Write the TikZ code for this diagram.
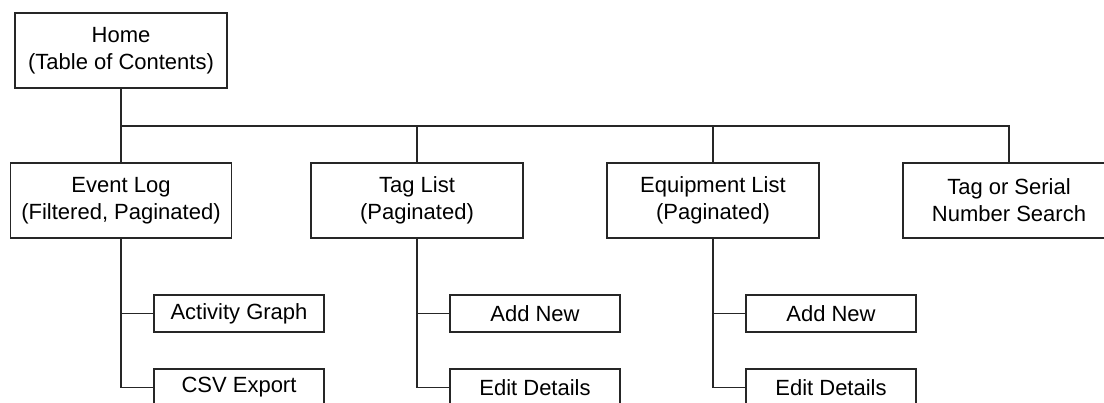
\documentclass[tikz,border=0pt]{standalone}
\usepackage{fontspec}
\setmainfont{Liberation Sans}
\tikzset{
    page/.style={draw=black!85, line width=0.9pt, fill=white, align=center,
        font=\fontsize{11}{13.5}\selectfont, inner sep=0pt},
    bigpage/.style={page, minimum width=106pt, minimum height=37.5pt},
    subpage/.style={page, minimum width=85pt, minimum height=18.5pt},
    link/.style={draw=black!85, line width=0.9pt}
}
\begin{document}
\begin{tikzpicture}[x=0.5pt, y=-0.5pt]

    % Page size of the reference, lower boxes run past the edge
    \useasboundingbox (0,0) rectangle (1104,402);
    \clip (0,0) rectangle (1104,402);

    % Top level
    \node[bigpage] (home) at (121,50.5) {Home\\(Table of Contents)};
    \coordinate (bus) at (121,126);

    % Second level
    \node[bigpage, minimum width=110.5pt] (evlog) at (121,200.5) {Event Log\\(Filtered, Paginated)};
	\node[bigpage] (taglist) at (417,200.5) {Tag List\\(Paginated)};
	\node[bigpage] (equip) at (713,200.5) {Equipment List\\(Paginated)};
	\node[bigpage] (search) at (1009,200.5) {Tag or Serial\\Number Search};

    % Third level
    \node[subpage] (graph) at (239,313.5) {Activity Graph};
    \node[subpage] (csv) at (239,387.5) {CSV Export};
    \node[subpage] (tagadd) at (535,313.5) {Add New};
    \node[subpage] (tagedit) at (535,387.5) {Edit Details};
    \node[subpage] (equipadd) at (831,313.5) {Add New};
    \node[subpage] (equipedit) at (831,387.5) {Edit Details};

    % Connectors
    \draw[link] (home.south) -- (bus) -| (search.north);
    \draw[link] (bus) -- (evlog.north);
    \draw[link] (bus -| taglist.north) -- (taglist.north);
    \draw[link] (bus -| equip.north) -- (equip.north);
    \draw[link] (evlog.south) |- (graph.west);
    \draw[link] (evlog.south) |- (csv.west);
    \draw[link] (taglist.south) |- (tagadd.west);
    \draw[link] (taglist.south) |- (tagedit.west);
    \draw[link] (equip.south) |- (equipadd.west);
    \draw[link] (equip.south) |- (equipedit.west);

\end{tikzpicture}
\end{document}
